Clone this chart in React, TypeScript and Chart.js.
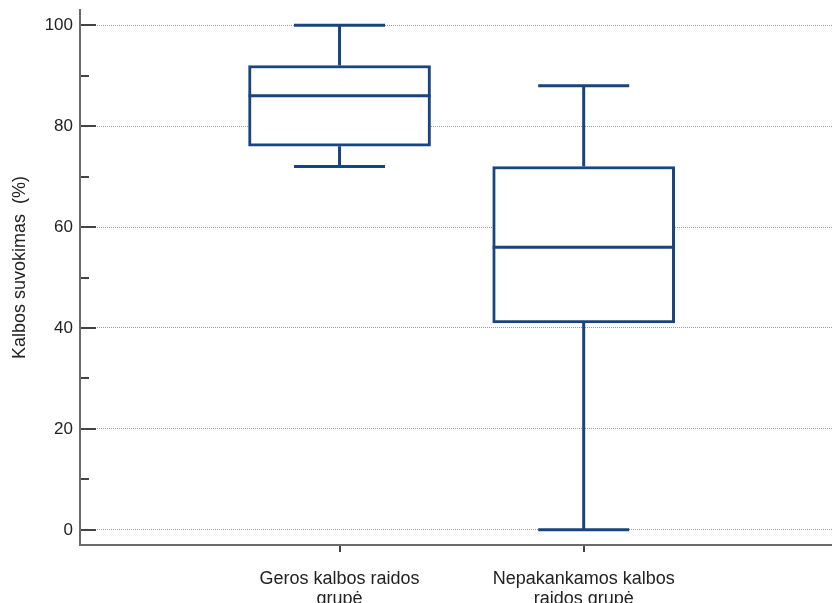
import React, { useEffect, useRef } from "react";
import { Chart, registerables } from "chart.js";

Chart.register(...registerables);

const categories: string[][] = [
  ["Geros kalbos raidos", "grupė"],
  ["Nepakankamos kalbos", "raidos grupė"],
];
const whiskerMin = [72, 0];
const q1 = [76, 41];
const median = [86, 56];
const q3 = [92, 72];
const whiskerMax = [100, 88];
const majorTicks = [0, 20, 40, 60, 80, 100];
const minorTicks = [10, 30, 50, 70, 90];
const yTitle = "Kalbos suvokimas  (%)";

const BOX_COLOR = "#18457f";
const FONT = "'Liberation Sans', Arial, sans-serif";

const boxPlugin = {
  id: "boxParts",
  afterDatasetsDraw(chart: any) {
    const { ctx, scales } = chart;
    const xs = scales.x;
    const ys = scales.y;
    const meta = chart.getDatasetMeta(0);
    ctx.save();
    ctx.strokeStyle = BOX_COLOR;
    ctx.lineWidth = 3;
    ctx.lineCap = "butt";
    categories.forEach((_, i) => {
      const xc = xs.getPixelForValue(i);
      const w = meta.data[i] ? meta.data[i].width : 180;
      const half = w / 2;
      const cap = w / 4;
      const yMin = ys.getPixelForValue(whiskerMin[i]);
      const yQ1 = ys.getPixelForValue(q1[i]);
      const yMed = ys.getPixelForValue(median[i]);
      const yQ3 = ys.getPixelForValue(q3[i]);
      const yMax = ys.getPixelForValue(whiskerMax[i]);
      ctx.beginPath();
      ctx.moveTo(xc - half, yMed);
      ctx.lineTo(xc + half, yMed);
      ctx.moveTo(xc, yQ3);
      ctx.lineTo(xc, yMax);
      ctx.moveTo(xc - cap, yMax);
      ctx.lineTo(xc + cap, yMax);
      ctx.moveTo(xc, yQ1);
      ctx.lineTo(xc, yMin);
      ctx.moveTo(xc - cap, yMin);
      ctx.lineTo(xc + cap, yMin);
      ctx.stroke();
    });
    ctx.restore();
  },
  afterDraw(chart: any) {
    const { ctx, scales, chartArea } = chart;
    const ys = scales.y;
    const x0 = chartArea.left + 1;
    ctx.save();
    ctx.strokeStyle = "#444";
    ctx.lineWidth = 2;
    ctx.beginPath();
    majorTicks.forEach((v) => {
      const y = Math.round(ys.getPixelForValue(v));
      ctx.moveTo(x0, y);
      ctx.lineTo(x0 + 15, y);
    });
    minorTicks.forEach((v) => {
      const y = Math.round(ys.getPixelForValue(v));
      ctx.moveTo(x0, y);
      ctx.lineTo(x0 + 8, y);
    });
    ctx.stroke();
    // y axis title
    ctx.fillStyle = "#222";
    ctx.font = `18px ${FONT}`;
    ctx.textAlign = "center";
    ctx.textBaseline = "middle";
    ctx.translate(20.5, (chartArea.top + chartArea.bottom) / 2 - 10);
    ctx.rotate(-Math.PI / 2);
    ctx.fillText(yTitle, 0, 0);
    ctx.restore();
  },
};

export default function App() {
  const canvasRef = useRef<HTMLCanvasElement | null>(null);

  useEffect(() => {
    if (!canvasRef.current) return;
    const chart = new Chart(canvasRef.current, {
      type: "bar",
      data: {
        datasets: [
          {
            data: categories.map((_, i) => ({ x: i, y: [q1[i], q3[i]] })) as any,
            backgroundColor: "#ffffff",
            borderColor: BOX_COLOR,
            borderWidth: 3,
            borderSkipped: false,
            barThickness: 182,
          },
        ],
      },
      options: {
        animation: false,
        responsive: true,
        maintainAspectRatio: false,
        layout: { padding: { top: 10, right: 0, left: 0, bottom: 0 } },
        plugins: { legend: { display: false }, tooltip: { enabled: false } },
        scales: {
          x: {
            type: "linear",
            min: -1.063,
            max: 2.017,
            offset: false,
            afterBuildTicks: (scale: any) => {
              scale.ticks = categories.map((_, i) => ({ value: i }));
            },
            afterFit: (scale: any) => {
              scale.height = 58;
              scale.paddingLeft = 0;
              scale.paddingRight = 0;
            },
            grid: {
              offset: false,
              drawOnChartArea: false,
              drawTicks: true,
              tickLength: 7,
              color: "#444",
              lineWidth: 2,
            },
            border: { display: true, color: "#6a6a6a", width: 2 },
            ticks: {
              autoSkip: false,
              maxRotation: 0,
              padding: 17,
              color: "#222",
              font: { family: FONT, size: 18, lineHeight: 1.1 },
              callback: (v: any) => categories[v as number],
            },
          },
          y: {
            type: "linear",
            min: -3,
            max: 103,
            afterBuildTicks: (scale: any) => {
              scale.ticks = majorTicks.map((v) => ({ value: v }));
            },
            afterFit: (scale: any) => {
              scale.width = 80;
              scale.paddingTop = 0;
              scale.paddingBottom = 0;
            },
            grid: {
              drawTicks: false,
              color: "#9a9a9a",
              lineWidth: 1,
            },
            border: { display: true, color: "#6a6a6a", width: 2, dash: [1, 1] },
            ticks: {
              padding: 7,
              color: "#222",
              font: { family: FONT, size: 17 },
            },
            title: { display: false },
          },
        },
      },
      plugins: [boxPlugin],
    });
    return () => chart.destroy();
  }, []);

  return (
    <div style={{ position: "absolute", left: 0, top: 0, width: 832, height: 603 }}>
      <canvas ref={canvasRef} />
    </div>
  );
}
